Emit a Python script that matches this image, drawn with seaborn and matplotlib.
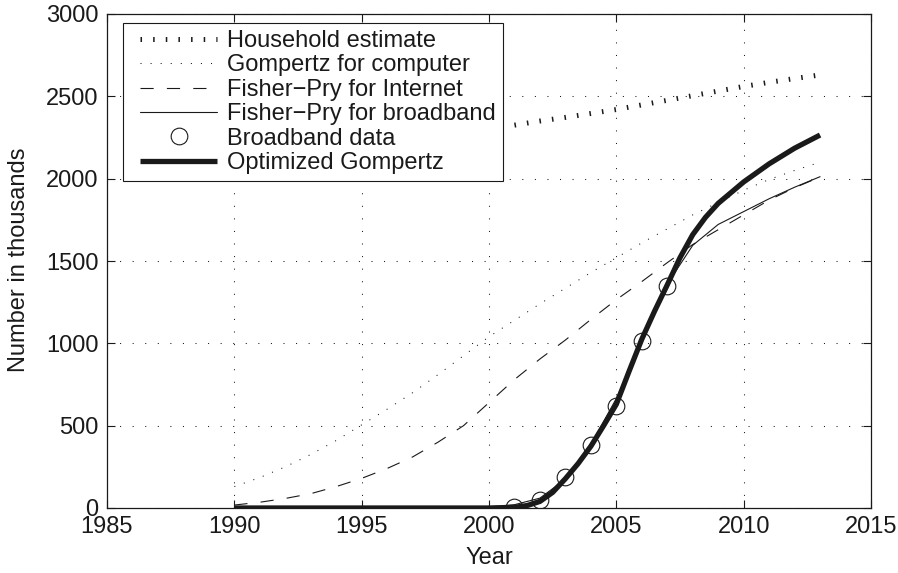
import matplotlib
matplotlib.use("Agg")
import matplotlib.pyplot as plt
import seaborn as sns
import pandas as pd
from matplotlib.legend_handler import HandlerLine2D
from matplotlib.lines import Line2D

# ---------------- data ----------------
household_years = [2001, 2002, 2003, 2004, 2005, 2006, 2007, 2008, 2009, 2010, 2011, 2012, 2013]
household = [2325, 2350, 2372, 2396, 2420, 2448, 2476, 2504, 2532, 2560, 2585, 2608, 2630]

fit_years = [1990, 1991, 1992, 1993, 1994, 1995, 1996, 1997, 1998, 1999, 2000, 2001,
             2002, 2003, 2004, 2005, 2006, 2007, 2008, 2009, 2010, 2011, 2012, 2013]
gompertz_computer = [130, 185, 250, 325, 410, 505, 600, 700, 810, 925, 1040, 1140,
                     1240, 1335, 1430, 1520, 1610, 1695, 1780, 1855, 1930, 1995, 2050, 2100]
fisher_internet = [18, 35, 58, 87, 130, 180, 240, 310, 400, 500, 640, 780,
                   905, 1020, 1145, 1265, 1375, 1490, 1600, 1690, 1780, 1870, 1945, 2010]
fisher_broadband = [0, 0, 0, 0, 0, 0, 0, 1, 2, 4, 8, 20,
                    60, 175, 385, 665, 1010, 1360, 1595, 1722, 1800, 1878, 1948, 2012]

opt_years = [1990, 1995, 2000, 2000.5, 2001, 2001.5, 2002, 2002.5, 2003, 2003.5, 2004, 2004.5,
             2005, 2005.5, 2006, 2006.5, 2007, 2007.5, 2008, 2008.5, 2009, 2010, 2011, 2012, 2013]
opt_gompertz = [0, 0, 0, 1, 4, 15, 40, 95, 178, 270, 375, 500,
                630, 830, 1025, 1195, 1355, 1520, 1660, 1765, 1850, 1980, 2090, 2185, 2265]

bb_years = [2001, 2002, 2003, 2004, 2005, 2006, 2007]
bb_data = [5, 48, 190, 383, 621, 1016, 1348]

labels = ["Household estimate", "Gompertz for computer", "Fisher\u2212Pry for Internet",
          "Fisher\u2212Pry for broadband", "Broadband data", "Optimized Gompertz"]
x_ticks = [1985, 1990, 1995, 2000, 2005, 2010, 2015]
y_ticks = [0, 500, 1000, 1500, 2000, 2500, 3000]

# ---------------- style ----------------
sns.set_theme(style="white")
plt.rcParams["font.family"] = ["Liberation Sans", "DejaVu Sans"]
plt.rcParams["lines.scale_dashes"] = False
plt.rcParams["axes.unicode_minus"] = True
for key in ["text.color", "axes.labelcolor", "xtick.color", "ytick.color",
            "axes.edgecolor"]:
    plt.rcParams[key] = "k"
FS = 17

fig = plt.figure(figsize=(8.98, 5.73), dpi=100)
ax = fig.add_axes([107 / 898, 65 / 573, (871 - 107) / 898, (559 - 65) / 573])

df_house = pd.DataFrame({"Year": household_years, "v": household})
df_fit = pd.DataFrame({"Year": fit_years, "comp": gompertz_computer,
                       "inet": fisher_internet, "bb": fisher_broadband})
df_opt = pd.DataFrame({"Year": opt_years, "v": opt_gompertz})
df_bb = pd.DataFrame({"Year": bb_years, "v": bb_data})

sns.lineplot(data=df_house, x="Year", y="v", ax=ax, color="k", linewidth=3.6,
             linestyle=(0, (1.1, 8.0)), dash_capstyle="butt", label=labels[0], zorder=3)
sns.lineplot(data=df_fit, x="Year", y="comp", ax=ax, color="k", linewidth=0.75,
             linestyle=(0, (0.75, 6.5)), dash_capstyle="butt", label=labels[1], zorder=3)
sns.lineplot(data=df_fit, x="Year", y="inet", ax=ax, color="k", linewidth=0.8,
             linestyle=(0, (9.5, 9.5)), dash_capstyle="butt", label=labels[2], zorder=3)
sns.lineplot(data=df_fit, x="Year", y="bb", ax=ax, color="k", linewidth=0.8,
             linestyle="-", label=labels[3], zorder=3)
sns.lineplot(data=df_bb, x="Year", y="v", ax=ax, color="k", linestyle="none",
             marker="o", markersize=12, markerfacecolor="none", markeredgecolor="k",
             markeredgewidth=0.8, label=labels[4], zorder=4)
sns.lineplot(data=df_opt, x="Year", y="v", ax=ax, color="k", linewidth=3.8,
             linestyle="-", solid_capstyle="butt", solid_joinstyle="round",
             label=labels[5], zorder=5)

ax.set_xlim(1985, 2015)
ax.set_ylim(0, 3000)
ax.set_xticks(x_ticks)
ax.set_yticks(y_ticks)
ax.set_xticklabels([str(t) for t in x_ticks])
ax.set_yticklabels([str(t) for t in y_ticks])
ax.tick_params(axis="both", which="both", direction="in", bottom=True, left=True,
               top=True, right=True, length=5.5, width=0.8, labelsize=FS, pad=6,
               colors="k", labelcolor="k")

ax.grid(True, color="k", linestyle=(0, (0.75, 8.3)), linewidth=0.75)
ax.set_axisbelow(True)
for s in ax.spines.values():
    s.set_visible(True)
    s.set_color("k")
    s.set_linewidth(0.9)
ax.set_facecolor("white")

ax.set_xlabel("Year", fontsize=FS, color="k")
ax.set_ylabel("Number in thousands", fontsize=FS, color="k")
ax.xaxis.set_label_coords(0.5, -0.078)
ax.yaxis.set_label_coords(-0.1008, 0.502)

handles, _ = ax.get_legend_handles_labels()
leg = ax.legend(handles=handles, labels=labels, loc="upper left",
                bbox_to_anchor=(16 / 764, (508 - 23) / 494), borderaxespad=0,
                fontsize=FS, frameon=True, fancybox=False, shadow=False,
                framealpha=1, edgecolor="k", borderpad=0.3, labelspacing=0.1,
                handlelength=3.69, handletextpad=0.42, numpoints=1,
                handler_map={Line2D: HandlerLine2D(xpad=0.42)})
leg.get_frame().set_linewidth(0.8)
leg.set_zorder(10)
for t in leg.get_texts():
    t.set_color("k")

fig.savefig("out.png", dpi=100)
